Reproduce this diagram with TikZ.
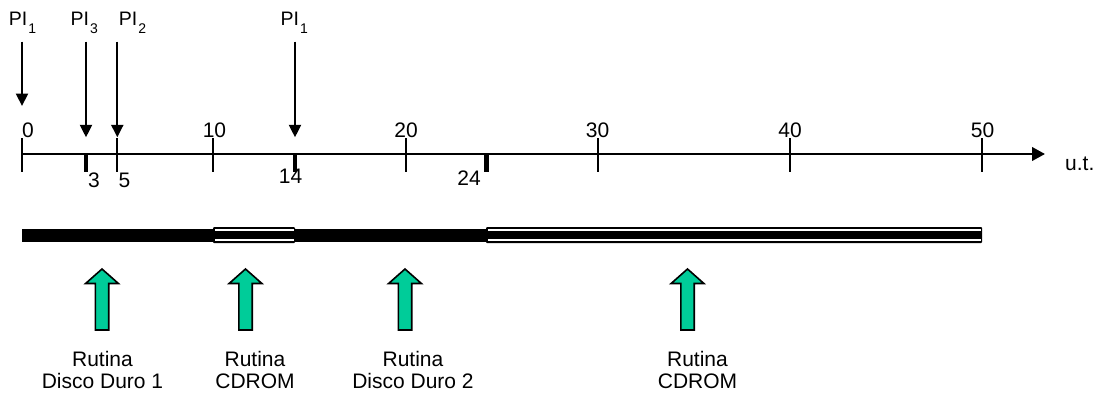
\documentclass[tikz,border=0pt]{standalone}
\usepackage{fontspec}
\setmainfont{Liberation Sans}
\usetikzlibrary{arrows.meta}
\definecolor{routgreen}{RGB}{0,204,153}

% subscript for interrupt labels
\newcommand{\pisub}[1]{\kern1pt{\fontsize{14}{15}\selectfont\raisebox{-7.5pt}{#1}}}

\begin{document}
\begin{tikzpicture}[x=1pt,y=-1pt,
  lbl/.style={inner sep=0pt, font=\fontsize{21}{23}\selectfont, anchor=base},
  pilbl/.style={inner sep=0pt, font=\fontsize{19.5}{22}\selectfont, anchor=base west},
  axisline/.style={line width=2.4pt, -{Triangle[length=13pt,width=13.5pt]}},
  tickmark/.style={line width=2pt},
  bigtick/.style={line width=4.6pt},
  piarrow/.style={line width=2.2pt, -{Triangle[length=12.5pt,width=12pt]}},
  busy/.style={fill=black},
  upar/.style={fill=routgreen, draw=black, line width=1.6pt, line join=miter}
]
\useasboundingbox (0,0) rectangle (1098,397);

% time axis
\coordinate (ax0) at (22,154);
\coordinate (axend) at (1045,154);
\draw[axisline] (ax0) -- (axend);
\node[inner sep=0pt, anchor=base west, font=\fontsize{21}{23}\selectfont] (ut) at (1065,170) {u.t.};

% regular ticks with their values
\foreach \x/\v/\lx [count=\i] in {22/0/28, 213.3/10/214.5, 406/20/406, 598/30/597.5, 790/40/790, 982/50/982.5}{
  \draw[tickmark] (\x,138) -- (\x,172);
  \node[lbl] (tv\i) at (\lx,137) {\v};
}

% marked instants below the axis
\draw[tickmark] (117.3,138) -- (117.3,172);
\draw[bigtick] (86,154) -- (86,172);
\draw[bigtick] (295,154) -- (295,172);
\draw[bigtick] (486.5,154) -- (486.5,172);
\node[lbl] (t3) at (94,187) {3};
\node[lbl] (t5) at (124.5,187) {5};
\node[lbl] (t14) at (290.5,183.5) {14};
\node[lbl] (t24) at (469,185) {24};

% interrupt requests
\node[pilbl] (pia) at (8.7,25.5) {PI\pisub{1}};
\node[pilbl] (pib) at (70.4,25.5) {PI\pisub{3}};
\node[pilbl] (pic) at (118.7,25.5) {PI\pisub{2}};
\node[pilbl] (pid) at (280.4,25.5) {PI\pisub{1}};
\coordinate (pas) at (22,41.7);   \coordinate (pae) at (22,106);
\coordinate (pbs) at (86,41.7);   \coordinate (pbe) at (86,137.3);
\coordinate (pcs) at (117.3,41.7);\coordinate (pce) at (117.3,137.3);
\coordinate (pds) at (295,41.7);  \coordinate (pde) at (295,137.3);
\draw[piarrow] (pas) -- (pae);
\draw[piarrow] (pbs) -- (pbe);
\draw[piarrow] (pcs) -- (pce);
\draw[piarrow] (pds) -- (pde);

% processor usage: solid = disk routines, hollow = CDROM routine
\fill[busy] (22,229) rectangle (213,242);
\fill[busy] (295,229) rectangle (486,242);
\foreach \a/\b in {213/295, 486/982}{
  \fill[black, rounded corners=1pt] (\a,227) rectangle (\b,243);
  \fill[white] (\a+1.5,229) rectangle (\b-1.5,241);
  \fill[black] (\a+1.5,231.3) rectangle (\b-1.5,238.7);
}

% routine markers
\foreach \c in {102, 245.5, 405, 687.5}{
  \draw[upar] (\c,269) -- (\c+16.4,283.5) -- (\c+6.7,283.5) -- (\c+6.7,330)
    -- (\c-6.7,330) -- (\c-6.7,283.5) -- (\c-16.4,283.5) -- cycle;
}

% routine names
\node[lbl] (r1a) at (102.5,366.5) {Rutina};
\node[lbl] (r1b) at (102.5,388) {Disco Duro 1};
\node[lbl] (r2a) at (255,366.5) {Rutina};
\node[lbl] (r2b) at (255,388) {CDROM};
\node[lbl] (r3a) at (413,366.5) {Rutina};
\node[lbl] (r3b) at (413,388) {Disco Duro 2};
\node[lbl] (r4a) at (697.5,366.5) {Rutina};
\node[lbl] (r4b) at (697.5,388) {CDROM};
\end{tikzpicture}
\end{document}
